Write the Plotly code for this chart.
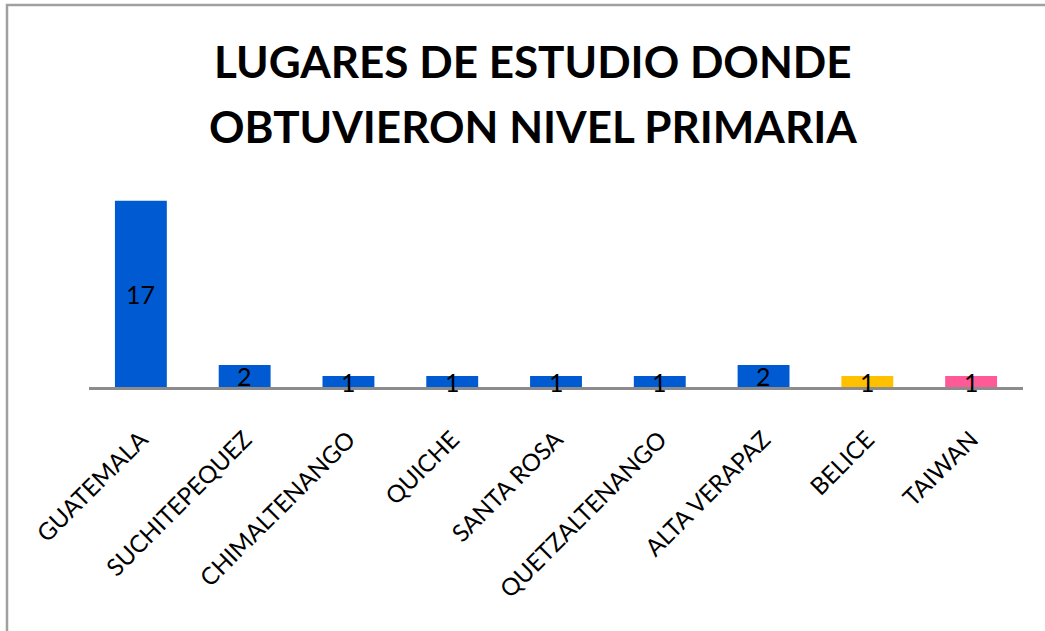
import plotly.graph_objects as go

categories = ["GUATEMALA", "SUCHITEPEQUEZ", "CHIMALTENANGO", "QUICHE", "SANTA ROSA",
              "QUETZALTENANGO", "ALTA VERAPAZ", "BELICE", "TAIWAN"]
values = [17, 2, 1, 1, 1, 1, 2, 1, 1]
colors = ["#005BD3"] * 7 + ["#FFC000", "#FF5A98"]
title_lines = ["LUGARES DE ESTUDIO DONDE", "OBTUVIERON NIVEL PRIMARIA"]

fig = go.Figure()
fig.add_trace(go.Bar(x=categories, y=values, marker=dict(color=colors, line=dict(width=0)),
                     hoverinfo="x+y"))

annotations = []
for c, v in zip(categories, values):
    annotations.append(dict(x=c, y=v / 2, text=str(v), showarrow=False, xref="x", yref="y",
                            font=dict(family="Lato", size=25, color="black"),
                            xanchor="center", yanchor="middle"))
for i, line in enumerate(title_lines):
    annotations.append(dict(x=0.475, y=1.49 - i * 0.297, xref="paper", yref="paper", text="<b>" + line + "</b>",
                            showarrow=False, xanchor="center", yanchor="middle",
                            font=dict(family="Lato", size=44, color="black")))

fig.update_layout(
    width=1045, height=631,
    margin=dict(l=89, r=22, t=168, b=244),
    paper_bgcolor="white", plot_bgcolor="white",
    showlegend=False,
    bargap=0.5,
    annotations=annotations,
    xaxis=dict(showline=True, linecolor="#8C8C8C", linewidth=3, tickangle=-45,
               ticklabelstandoff=26, showgrid=False, zeroline=False,
               tickfont=dict(family="Lato", size=24, color="black")),
    yaxis=dict(range=[0, 20], visible=False, showgrid=False, zeroline=False),
    shapes=[dict(type="rect", xref="paper", yref="paper",
                 x0=(7 - 89) / 934, x1=1.2, y0=-2, y1=(387 - 5) / 219,
                 line=dict(color="#A0A0A0", width=2.5), layer="below")],
)

fig.write_html("out.html", config={"displayModeBar": False},
               post_script="document.body.style.margin='0';document.body.style.overflow='hidden';")
